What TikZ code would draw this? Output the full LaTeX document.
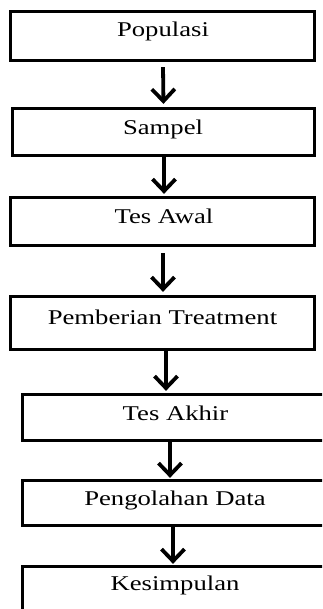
\documentclass[tikz,border=0pt]{standalone}
\usepackage{fontspec}
\setmainfont[FakeStretch=1.27]{Liberation Serif}
\usetikzlibrary{arrows.meta}
\begin{document}
\begin{tikzpicture}[x=1pt,y=-1pt,
  box/.style={draw=black, line width=3.3pt, rectangle, inner sep=0pt},
  lbl/.style={inner sep=0pt, font=\fontsize{21}{25}\selectfont},
  arr/.style={draw=black, line width=3.8pt, -{Straight Barb[length=12pt,width=23pt,line width=3.8pt]}}]
\clip (0,0) rectangle (322,609);
\fill[white] (0,0) rectangle (322,609);
% boxes
\node[box, minimum width=304pt, minimum height=49pt] (b1) at (162.5,36) {};
\node[box, minimum width=302pt, minimum height=47pt] (b2) at (163.5,132) {};
\node[box, minimum width=304pt, minimum height=48pt] (b3) at (162.75,221.5) {};
\node[box, minimum width=304pt, minimum height=53pt] (b4) at (162.75,323) {};
\node[box, minimum width=306pt, minimum height=46pt] (b5) at (175.5,417.5) {};
\node[box, minimum width=306pt, minimum height=45pt] (b6) at (175.5,503) {};
\node[box, minimum width=306pt, minimum height=57pt] (b7) at (175.5,595) {};
% labels
\node[lbl] (t1) at (163,31) {Populasi};
\node[lbl] (t2) at (163,129.5) {Sampel};
\node[lbl] (t3) at (164,216) {Tes Awal};
\node[lbl] (t4) at (162.5,317) {Pemberian Treatment};
\node[lbl] (t5) at (175.5,413) {Tes Akhir};
\node[lbl] (t6) at (175,500) {Pengolahan Data};
\node[lbl] (t7) at (175,585) {Kesimpulan};
% arrows
\draw[arr] ([xshift=0.5pt,yshift=-5pt]b1.south) -- ([xshift=0pt,yshift=3pt]b2.north);
\draw[arr] ([xshift=0.5pt]b2.south) -- ([xshift=1.25pt,yshift=2pt]b3.north);
\draw[arr] ([xshift=0.25pt,yshift=-6pt]b3.south) -- ([xshift=0.25pt,yshift=3pt]b4.north);
\draw[arr] ([xshift=3.25pt]b4.south) -- ([xshift=-9.5pt,yshift=2pt]b5.north);
\draw[arr] ([xshift=-5.5pt]b5.south) -- ([xshift=-5.5pt,yshift=1pt]b6.north);
\draw[arr] ([xshift=-2.5pt]b6.south) -- ([xshift=-2.5pt,yshift=1pt]b7.north);
\end{tikzpicture}
\end{document}
